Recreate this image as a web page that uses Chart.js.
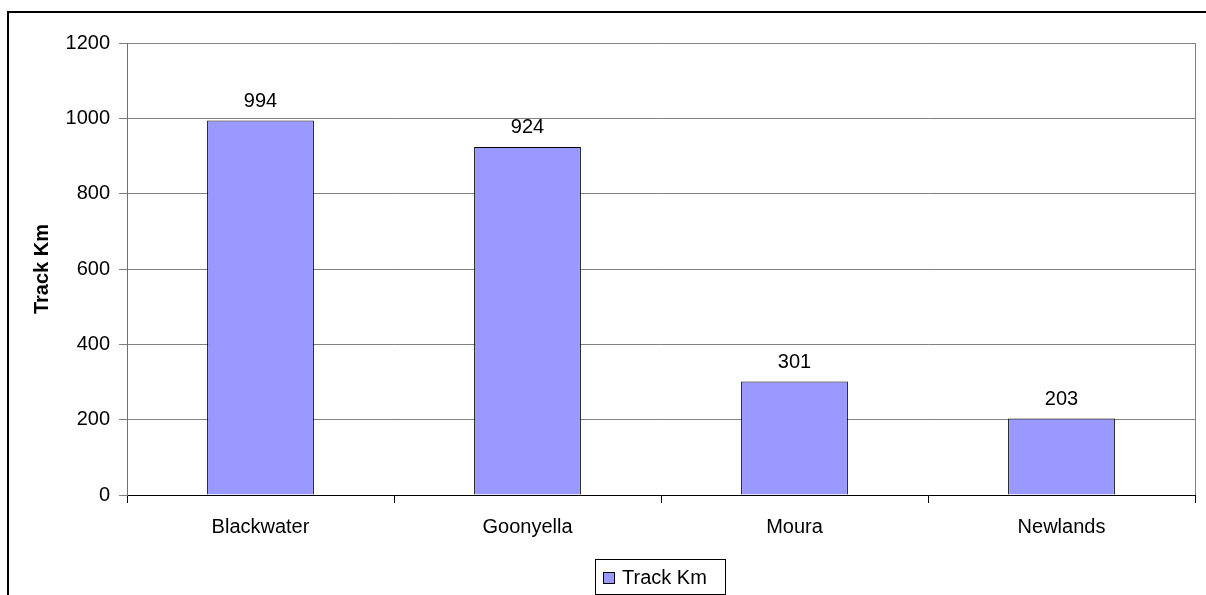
<!DOCTYPE html>
<html>
<head>
<meta charset="utf-8">
<script src="https://cdn.jsdelivr.net/npm/chart.js@4/dist/chart.umd.min.js"></script>
<style>
html,body{margin:0;padding:0;background:#fff;}
#wrap{width:1206px;height:595px;position:relative;}
</style>
</head>
<body>
<div id="wrap"><canvas id="c" width="1206" height="595"></canvas></div>
<script>
const categories = ["Blackwater", "Goonyella", "Moura", "Newlands"];
const trackKm = [994, 924, 301, 203];
const seriesLabel = "Track Km";
const yTicks = [0, 200, 400, 600, 800, 1000, 1200];

const FONT = "'Liberation Sans', Arial, sans-serif";
const BAR_COLOR = "#9999FF";

const framePlugin = {
  id: 'frame',
  beforeDraw(chart) {
    const ctx = chart.ctx;
    ctx.save();
    ctx.fillStyle = '#fff';
    ctx.fillRect(0, 0, chart.width, chart.height);
    ctx.strokeStyle = '#000';
    ctx.lineWidth = 2;
    ctx.beginPath();
    ctx.moveTo(8, 600);
    ctx.lineTo(8, 12);
    ctx.lineTo(1210, 12);
    ctx.stroke();
    ctx.restore();
  },
  afterDraw(chart) {
    const ctx = chart.ctx;
    const a = chart.chartArea;
    ctx.save();
    // right plot border
    ctx.strokeStyle = '#808080';
    ctx.lineWidth = 1;
    ctx.beginPath();
    ctx.moveTo(Math.round(a.right) + 0.5, a.top);
    ctx.lineTo(Math.round(a.right) + 0.5, a.bottom);
    ctx.stroke();
    // data labels
    const meta = chart.getDatasetMeta(0);
    ctx.fillStyle = '#000';
    ctx.font = "20px " + FONT;
    ctx.textAlign = 'center';
    ctx.textBaseline = 'middle';
    meta.data.forEach((bar, i) => {
      ctx.fillText(String(chart.data.datasets[0].data[i]), bar.x, bar.y - 19);
    });
    // legend
    ctx.strokeStyle = '#000';
    ctx.lineWidth = 1;
    ctx.strokeRect(595.5, 559.5, 130, 35);
    ctx.fillStyle = chart.data.datasets[0].backgroundColor;
    ctx.fillRect(603.5, 572.5, 11, 11);
    ctx.strokeRect(603.5, 572.5, 11, 11);
    ctx.fillStyle = '#000';
    ctx.textAlign = 'left';
    ctx.textBaseline = 'middle';
    ctx.fillText(chart.data.datasets[0].label, 622, 578);
    ctx.restore();
  }
};

new Chart(document.getElementById('c'), {
  type: 'bar',
  data: {
    labels: categories,
    datasets: [{
      label: seriesLabel,
      data: trackKm,
      backgroundColor: BAR_COLOR,
      borderColor: '#000',
      borderWidth: 1,
      barPercentage: 0.4,
      categoryPercentage: 1.0
    }]
  },
  options: {
    responsive: false,
    animation: false,
    devicePixelRatio: 1,
    layout: { padding: { left: 8, top: 43, right: 11, bottom: 0 } },
    plugins: { legend: { display: false }, tooltip: { enabled: false } },
    scales: {
      x: {
        grid: { offset: true, drawOnChartArea: false, drawTicks: true, tickLength: 8, color: '#000' },
        border: { color: '#000', width: 1 },
        ticks: { color: '#000', font: { family: FONT, size: 20 }, padding: 12, maxRotation: 0 },
        afterFit(s) { s.height = 100; }
      },
      y: {
        min: 0,
        max: 1200,
        afterBuildTicks(s) { s.ticks = yTicks.map(v => ({ value: v })); },
        grid: { color: '#808080', tickLength: 8, drawTicks: true },
        border: { color: '#707070', width: 1 },
        ticks: { color: '#000', font: { family: FONT, size: 20 }, padding: 9, callback: v => String(v) },
        title: { display: true, text: seriesLabel, color: '#000', font: { family: FONT, size: 20, weight: 'bold' }, padding: { top: 22, bottom: 0 } },
        afterFit(s) { s.width = 119; }
      }
    }
  },
  plugins: [framePlugin]
});
</script>
</body>
</html>
